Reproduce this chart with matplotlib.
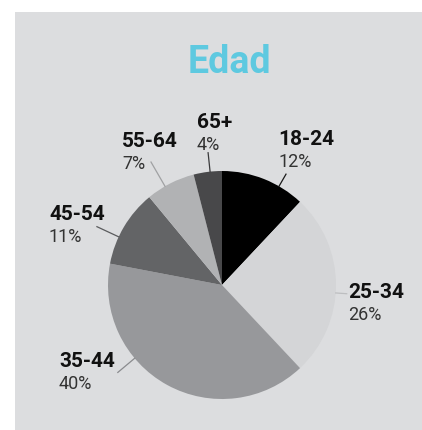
import numpy as np
import matplotlib
matplotlib.use("Agg")
import matplotlib.pyplot as plt
from matplotlib.patches import Rectangle

# data
groups = ["18-24", "25-34", "35-44", "45-54", "55-64", "65+"]
shares = [12, 26, 40, 11, 7, 4]
colors = ["#000000", "#d4d5d7", "#97989b", "#636466", "#b1b2b4", "#48484a"]
line_colors = ["#1a1a1a", "#bdbec0", "#8a8b8e", "#5a5b5d", "#a0a1a3", "#3a3a3c"]

# layout (pixel coords, y down)
W, H = 422, 430
cx, cy, R = 222, 285, 114
# angle of leader line (deg), outer radius, text x, baseline of name
label_layout = [
    (60, 128, 278, 145),
    (-4, 125, 348, 298),
    (220, 136, 59, 367),
    (155, 138, 49, 220),
    (120, 142, 122, 147),
    (96, 133, 197, 128),
]

fig = plt.figure(figsize=(W / 100, H / 100), dpi=100)
fig.patch.set_facecolor("white")
ax = fig.add_axes([0, 0, 1, 1])

ax.add_patch(Rectangle((15, 12), W - 15, H - 12, facecolor="#dcdddf",
                       edgecolor="none", zorder=0))

ax.text(229, 73, "Edad", fontsize=27, fontweight="bold", family="Roboto",
        color="#5ec9e0", ha="center", va="baseline")

# pie (y axis inverted, so counterclock=True renders clockwise)
ax.pie(shares, colors=colors, startangle=-90, counterclock=True,
       center=(cx, cy), radius=R, frame=True,
       wedgeprops=dict(linewidth=0))
ax.set_xlim(0, W)
ax.set_ylim(H, 0)
ax.set_aspect("auto")
ax.axis("off")

for name, val, lc, (ang, rout, tx, ty) in zip(groups, shares, line_colors, label_layout):
    a = np.deg2rad(ang)
    x0, y0 = cx + R * np.cos(a), cy - R * np.sin(a)
    x1, y1 = cx + rout * np.cos(a), cy - rout * np.sin(a)
    ax.plot([x0, x1], [y0, y1], color=lc, linewidth=0.9, zorder=3)
    ax.text(tx, ty, name, fontsize=15, fontweight="bold", family="Roboto",
            color="#111111", ha="left", va="baseline")
    ax.text(tx, ty + 22, f"{val}%", fontsize=13, fontweight="normal",
            family="Roboto", color="#333333", ha="left", va="baseline")

fig.savefig("out.png", dpi=100, facecolor="white")
